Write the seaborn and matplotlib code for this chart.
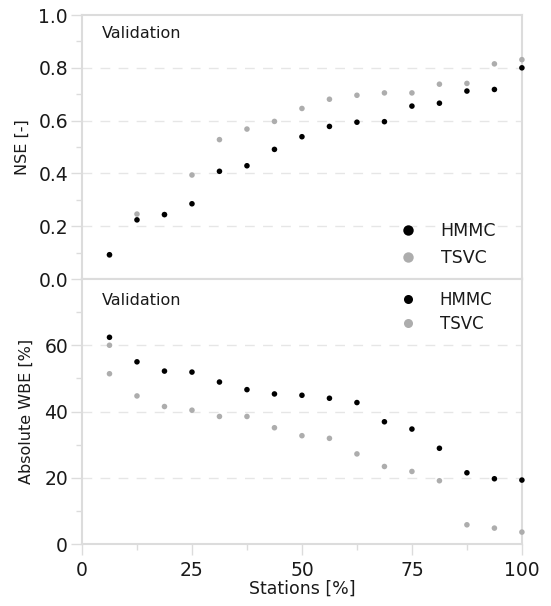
import numpy as np
import pandas as pd
import matplotlib
matplotlib.use("Agg")
import matplotlib.pyplot as plt
from matplotlib.ticker import MultipleLocator
import seaborn as sns

# Share of stations (%) at which each metric is evaluated
stations = [6.25, 12.5, 18.75, 25, 31.25, 37.5, 43.75, 50,
            56.25, 62.5, 68.75, 75, 81.25, 87.5, 93.75, 100]

# NSE [-] in validation
nse_hmmc = [0.092, 0.224, 0.244, 0.285, 0.408, 0.429, 0.491, 0.539,
            0.578, 0.594, 0.596, 0.655, 0.666, 0.712, 0.718, 0.800]
nse_tsvc = [0.090, 0.246, 0.244, 0.394, 0.528, 0.568, 0.597, 0.646,
            0.681, 0.696, 0.705, 0.705, 0.738, 0.741, 0.815, 0.831]

# Absolute water balance error [%] in validation
wbe_hmmc = [62.4, 55.0, 52.2, 51.9, 48.9, 46.6, 45.3, 44.9,
            44.0, 42.7, 36.9, 34.7, 28.9, 21.5, 19.7, 19.3]
wbe_tsvc_stations = [6.25, 6.25, 12.5, 18.75, 25, 31.25, 37.5, 43.75, 50,
                     56.25, 62.5, 68.75, 75, 81.25, 87.5, 93.75, 100]
wbe_tsvc = [60.0, 51.4, 44.7, 41.5, 40.4, 38.5, 38.5, 35.1, 32.7,
            31.9, 27.2, 23.4, 21.9, 19.1, 5.8, 4.8, 3.6]

models = ["HMMC", "TSVC"]
colors = {"HMMC": "#000000", "TSVC": "#adadad"}

# TSVC rows come first so HMMC points are drawn on top where they overlap
nse_df = pd.DataFrame({
    "Stations": stations + stations,
    "value": nse_tsvc + nse_hmmc,
    "model": ["TSVC"] * len(stations) + ["HMMC"] * len(stations),
})
wbe_df = pd.DataFrame({
    "Stations": wbe_tsvc_stations + stations,
    "value": wbe_tsvc + wbe_hmmc,
    "model": ["TSVC"] * len(wbe_tsvc_stations) + ["HMMC"] * len(stations),
})

sns.set_theme(style="white")
plt.rcParams["font.family"] = ["DejaVu Sans"]

fig = plt.figure(figsize=(5.51, 6.06), dpi=100)
ax1 = fig.add_axes([0.1488, 0.5396, 0.7984, 0.4356])
ax2 = fig.add_axes([0.1488, 0.1023, 0.7984, 0.4373])

spine_col = "#dcdcdc"
grid_col = "#e6e6e6"
text_col = "#1a1a1a"

for ax, df in ((ax1, nse_df), (ax2, wbe_df)):
    sns.scatterplot(data=df, x="Stations", y="value", hue="model",
                    hue_order=models, palette=colors, s=16,
                    edgecolor="none", ax=ax, legend=False, clip_on=False,
                    zorder=3)

def style(ax, ymax, ymaj, ymin):
    ax.set_xlim(0, 100)
    ax.set_ylim(0, ymax)
    ax.yaxis.set_major_locator(MultipleLocator(ymaj))
    ax.yaxis.set_minor_locator(MultipleLocator(ymin))
    for s in ax.spines.values():
        s.set_visible(True)
        s.set_color(spine_col)
        s.set_linewidth(1.5)
    ax.tick_params(axis="y", which="major", direction="out", length=8,
                   width=1.0, color=spine_col, labelsize=13.5,
                   labelcolor=text_col, pad=2, left=True)
    ax.tick_params(axis="y", which="minor", direction="out", length=4,
                   width=1.0, color=spine_col, left=True)
    ax.grid(False)
    for yv in np.arange(ymaj, ymax - 1e-9, ymaj):
        ax.axhline(yv, color=grid_col, lw=1.0, ls=(0, (7, 6)), zorder=1)
    ax.set_xlabel("")

style(ax1, 1.0, 0.2, 0.1)
style(ax2, 80, 20, 10)

ax1.yaxis.set_major_formatter(matplotlib.ticker.FormatStrFormatter("%.1f"))
ax1.set_xticks([])
ax2.set_yticks([0, 20, 40, 60])
ax2.yaxis.set_minor_locator(matplotlib.ticker.FixedLocator([10, 30, 50, 70]))
ax2.set_xticks([0, 25, 50, 75, 100])
ax2.xaxis.set_minor_locator(MultipleLocator(12.5))
ax2.tick_params(axis="x", which="major", direction="out", length=8,
                width=1.0, color=spine_col, labelsize=13.5,
                labelcolor=text_col, pad=4, bottom=True)
ax2.tick_params(axis="x", which="minor", direction="out", length=4,
                width=1.0, color=spine_col, bottom=True)

ax1.set_ylabel("NSE [-]", fontsize=11.5, color=text_col)
ax2.set_ylabel("Absolute WBE [%]", fontsize=11.5, color=text_col)
ax2.set_xlabel("Stations [%]", fontsize=12.5, color=text_col, labelpad=0)
ax1.yaxis.set_label_coords(-0.118, 0.5)
ax2.yaxis.set_label_coords(-0.109, 0.5)

ax1.text(0.046, 0.929, "Validation", transform=ax1.transAxes,
         fontsize=11.5, color=text_col, va="center", ha="left")
ax2.text(0.046, 0.918, "Validation", transform=ax2.transAxes,
         fontsize=11.5, color=text_col, va="center", ha="left")

def legend(ax, anchor, fs, ms, spacing):
    handles = [plt.Line2D([], [], ls="", marker="o", ms=ms,
                          mfc=colors[m], mec="none") for m in models]
    ax.legend(handles, models, loc="center left", bbox_to_anchor=anchor,
              frameon=False, fontsize=fs, handlelength=1.0,
              handletextpad=1.4, labelspacing=spacing, borderpad=0,
              labelcolor=text_col)

legend(ax1, (0.701, 0.131), 12.5, 7.5, 0.55)
legend(ax2, (0.703, 0.876), 12, 6.5, 0.35)

fig.savefig("out.png", dpi=100)
